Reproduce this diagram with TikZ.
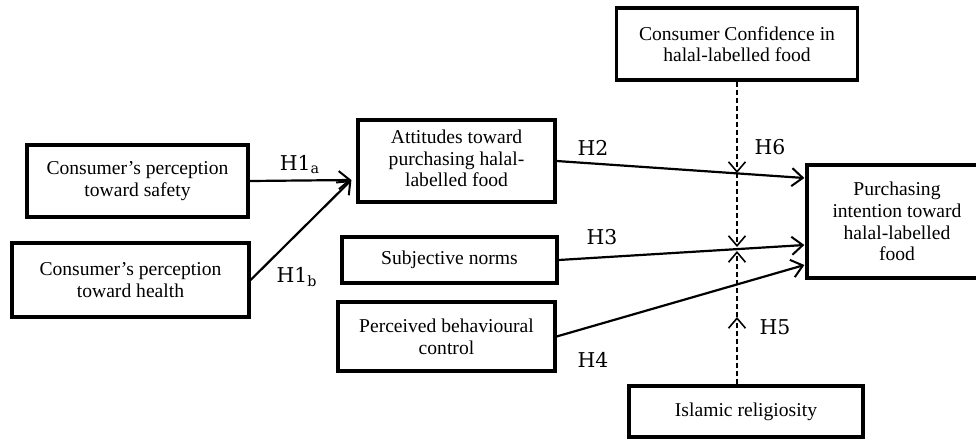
\documentclass[tikz,border=0pt]{standalone}
\usepackage{fontspec}
\setmainfont{Liberation Serif}
\newfontfamily\hypfont{DejaVu Serif}
\usetikzlibrary{positioning, arrows.meta}
\tikzset{
box/.style={draw, rectangle, line width=1.6pt, align=center, inner sep=2pt,
  font=\fontsize{9.8}{10.8}\selectfont},
hyp/.style={font=\hypfont\fontsize{10.2}{11}\selectfont, inner sep=0pt},
link/.style={line width=1.1pt, -{Straight Barb[length=5.5pt,width=9pt,line width=1pt]}},
moder/.style={line width=0.75pt, dash pattern=on 2.5pt off 1.5pt,
  -{Straight Barb[length=5pt,width=8.5pt,line width=0.8pt]}},
}

\begin{document}
\begin{tikzpicture}[x=0.5pt, y=-0.5pt]
    \useasboundingbox (0,0) rectangle (976,441);

    %predictors on the left
    \node[box, minimum width=110.5pt, minimum height=36pt] (safety) at (137.5,181)
        {Consumer’s perception\\toward safety};
    \node[box, minimum width=118.5pt, minimum height=37pt] (health) at (130.5,280)
        {Consumer’s perception\\toward health};

    %middle column
    \node[box, minimum width=98.5pt, minimum height=41pt] (attitude) at (456.5,161)
        {Attitudes toward\\purchasing halal-\\labelled food\\[-8pt]};
    \node[box, minimum width=107.5pt, minimum height=23pt] (norms) at (449.5,260)
        {Subjective norms};
    \node[box, minimum width=108.5pt, minimum height=34.5pt] (control) at (446.5,336.5)
        {Perceived behavioural\\control};

    %moderators and outcome
    \node[box, minimum width=120.5pt, minimum height=36pt] (confidence) at (737,44)
        {Consumer Confidence in\\halal-labelled food};
    \node[box, minimum width=90pt, minimum height=56.5pt] (intention) at (897,221.5)
        {Purchasing\\intention toward\\halal-labelled\\food};
    \node[box, minimum width=117pt, minimum height=25.5pt] (religiosity) at (746,411.5)
        {Islamic religiosity};

    %arrow ends
    \coordinate (h1tip) at ([shift={(-5,19)}]attitude.west);
    \coordinate (h2tip) at ([shift={(-1,-43.5)}]intention.west);
    \coordinate (h3tip) at ([shift={(-1,23.5)}]intention.west);
    \coordinate (h4tip) at ([shift={(-1,43.5)}]intention.west);
    \coordinate (cross2) at (737,173);
    \coordinate (cross3a) at (737,247);
    \coordinate (cross3b) at (737,251);
    \coordinate (h5mid) at (737,317);

    %direct paths
    \draw[link] (safety.east)--(h1tip);
    \draw[link] (health.east)--(h1tip);
    \draw[link] (attitude.east)--(h2tip);
    \draw[link] (norms.east)--(h3tip);
    \draw[link] (control.east)--(h4tip);

    %moderating paths
    \draw[moder] (confidence.south)--(cross2);
    \draw[moder] (cross2)--(cross3a);
    \draw[moder] (confidence.south |- religiosity.north)--(h5mid);
    \draw[moder] (h5mid)--(cross3b);

    %hypothesis labels
    \node[hyp] (lh1a) at (300,165) {H1\textsubscript{a}};
    \node[hyp] (lh1b) at (297,277) {H1\textsubscript{b}};
    \node[hyp] (lh2) at (593,148) {H2};
    \node[hyp] (lh3) at (602,237) {H3};
    \node[hyp] (lh4) at (593,360) {H4};
    \node[hyp] (lh5) at (775,327) {H5};
    \node[hyp] (lh6) at (770,147) {H6};

\end{tikzpicture}
\end{document}
